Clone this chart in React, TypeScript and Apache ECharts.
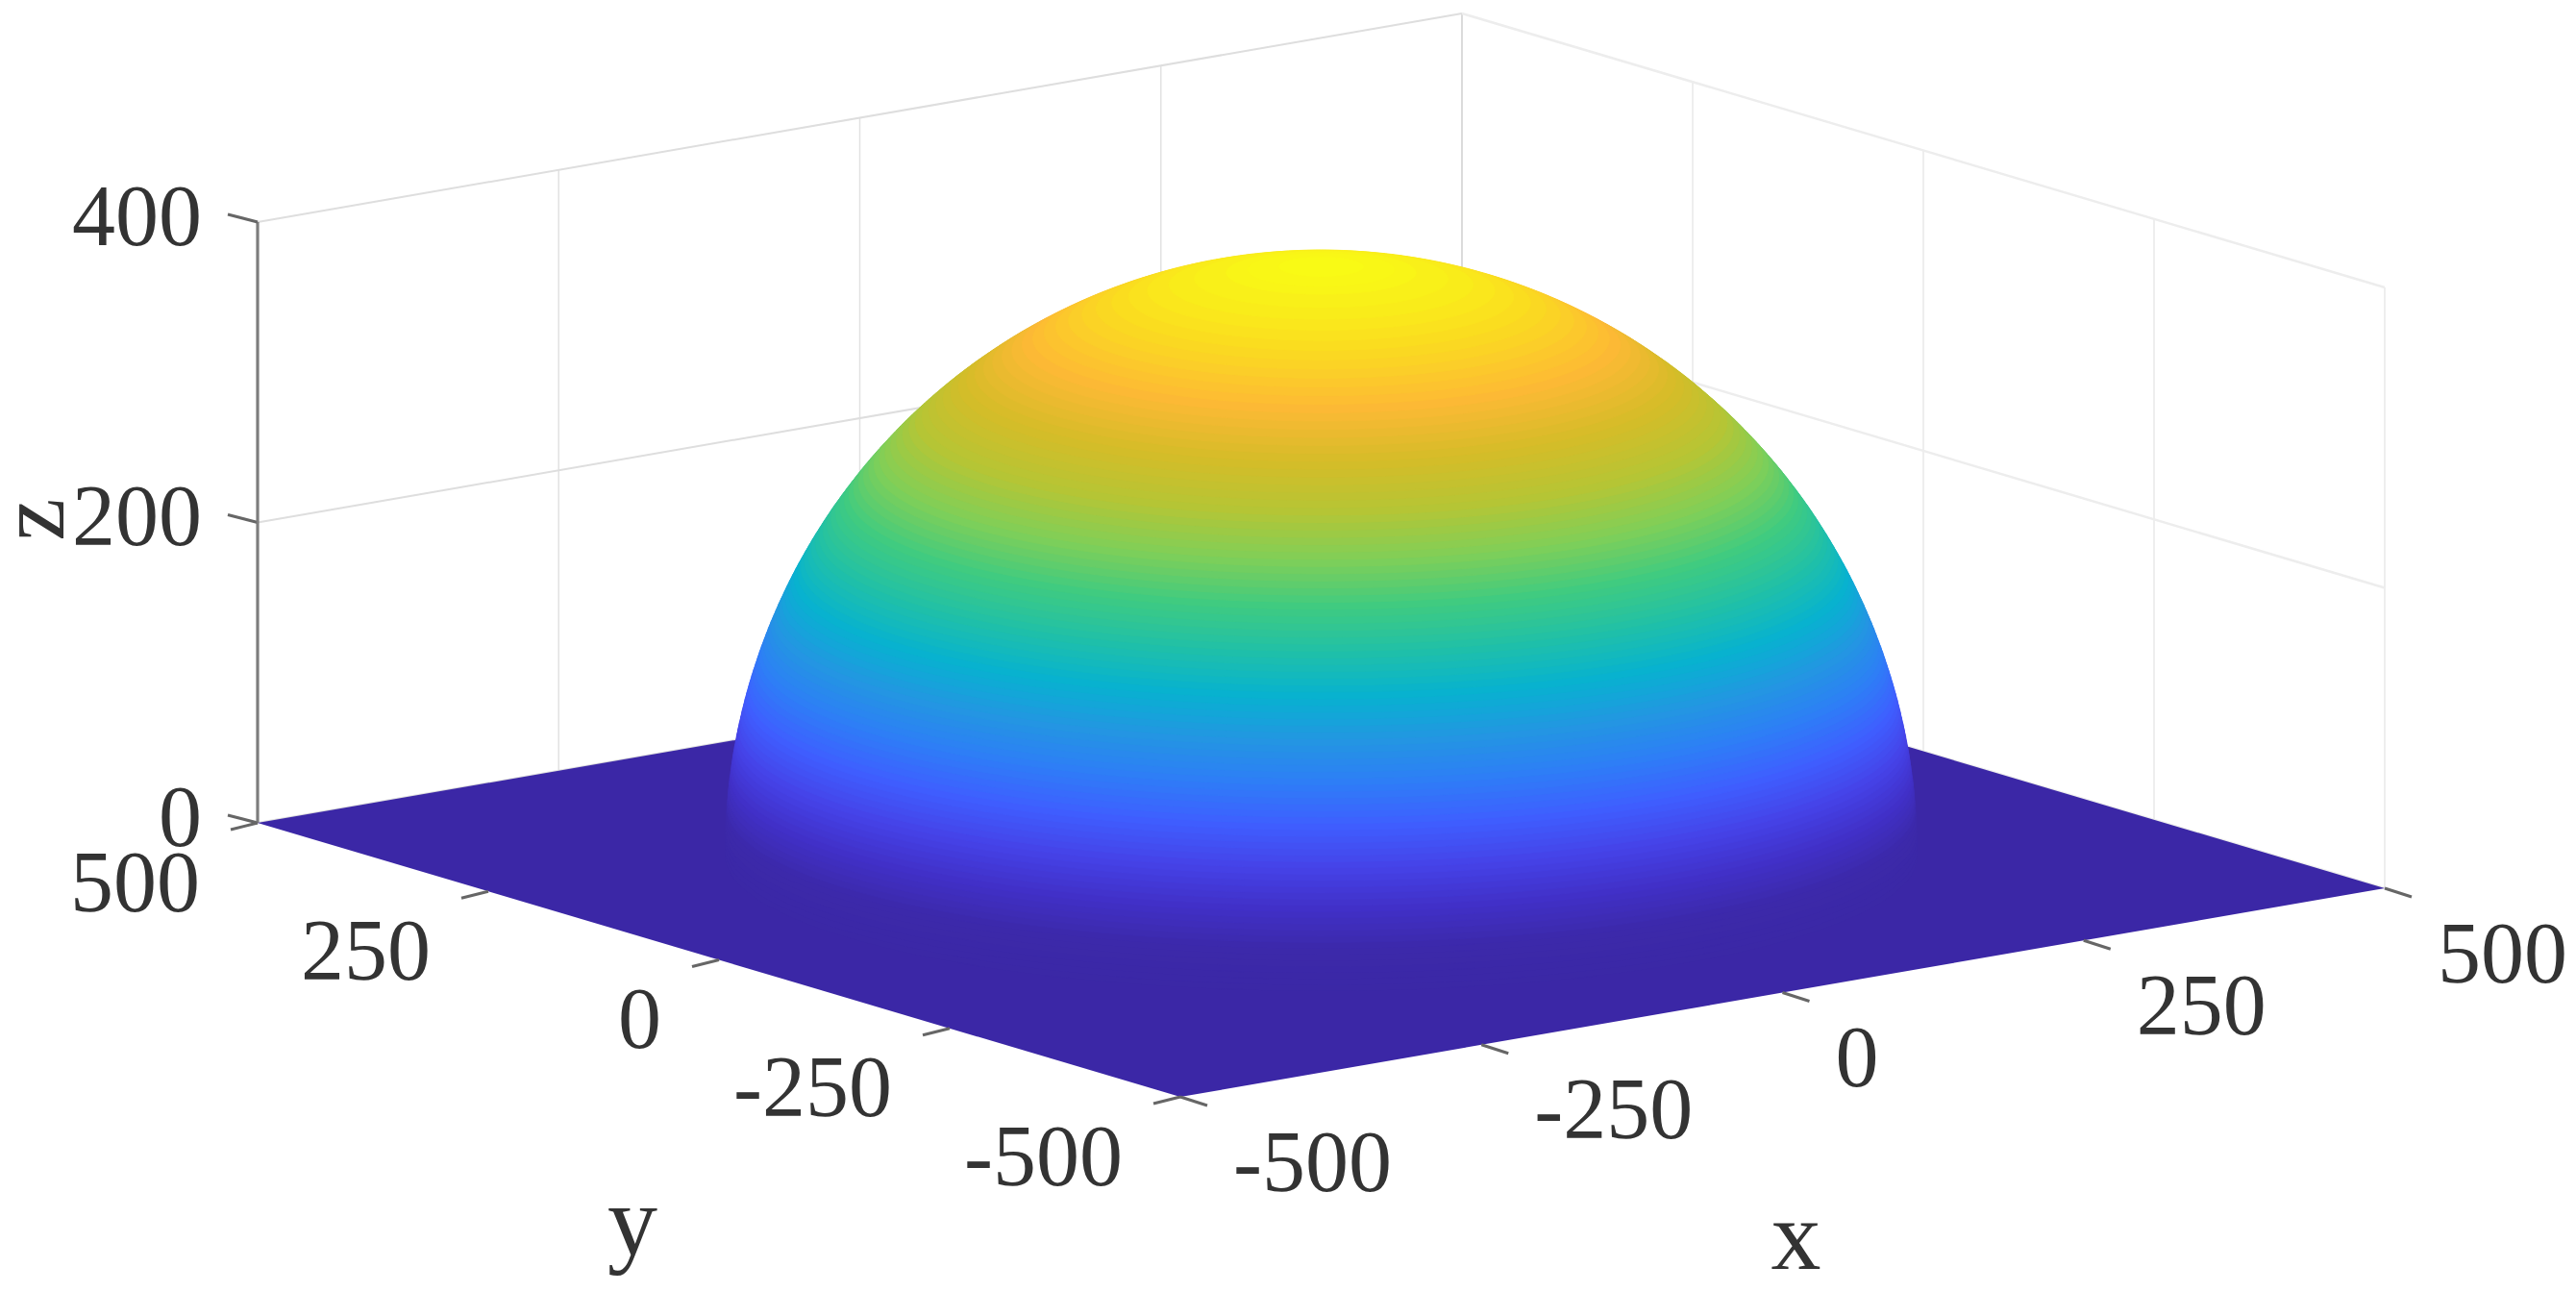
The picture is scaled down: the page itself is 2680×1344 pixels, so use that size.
import React, { useEffect, useRef } from "react";
import * as echarts from "echarts";

// ---- values ----
const xTicks = [-500, -250, 0, 250, 500];
const yTicks = [500, 250, 0, -250, -500];
const zTicks = [0, 200, 400];
const xTickLabels = ["-500", "-250", "0", "250", "500"];
const yTickLabels = ["500", "250", "0", "-250", "-500"];
const zTickLabels = ["0", "200", "400"];
const axisNames = ["x", "y", "z"];

// Height of each horizontal slice of the dome and the radius of that slice
const zLevels = [
  0, 4, 8, 12, 16, 20, 24, 28, 32, 36, 40, 44, 48, 52, 56, 60, 64, 68, 72, 76, 80, 84, 88, 92, 96, 100,
  104, 108, 112, 116, 120, 124, 128, 132, 136, 140, 144, 148, 152, 156, 160, 164, 168, 172, 176, 180, 184, 188, 192, 196, 200,
  204, 208, 212, 216, 220, 224, 228, 232, 236, 240, 244, 248, 252, 256, 260, 264, 268, 272, 276, 280, 284, 288, 292, 296, 300,
  304, 308, 312, 316, 320, 324, 328, 332, 336, 340, 344, 348, 352, 356, 360, 364, 368, 372, 376, 380, 384, 388, 390, 392, 393,
];
const ringRadii = [
  393.0, 393.0, 392.9, 392.8, 392.7, 392.5, 392.3, 392.0, 391.7, 391.3, 391.0, 390.5, 390.1, 389.5, 389.0, 388.4, 387.8, 387.1, 386.3, 385.6, 384.8, 383.9, 383.0, 382.1, 381.1, 380.1,
  379.0, 377.9, 376.7, 375.5, 374.2, 372.9, 371.6, 370.2, 368.7, 367.2, 365.7, 364.1, 362.4, 360.7, 359.0, 357.1, 355.3, 353.4, 351.4, 349.4, 347.3, 345.1, 342.9, 340.6, 338.3,
  335.9, 333.4, 330.9, 328.3, 325.7, 322.9, 320.1, 317.2, 314.2, 311.2, 308.1, 304.9, 301.6, 298.2, 294.7, 291.1, 287.4, 283.7, 279.8, 275.8, 271.6, 267.4, 263.0, 258.5, 253.9,
  249.1, 244.1, 239.0, 233.6, 228.1, 222.4, 216.5, 210.3, 203.8, 197.1, 190.0, 182.6, 174.8, 166.5, 157.6, 148.2, 137.9, 126.8, 114.4, 100.2, 83.6, 62.5, 48.4, 28.0, 0,
];
const surfaceColors = [
  "#3b28a6", "#3c29aa", "#4130c8", "#4543e8", "#3f5eff", "#2e7df7", "#2396e2", "#07b2d0",
  "#20c0a8", "#40cb80", "#80cf58", "#b5c535", "#d6bc28", "#fdb935", "#fadc20", "#f9fb15",
];
const floorColor = "#3b27a6";

// ---- layout of the view ----
const W = 2680;
const H = 1344;
const FRONT = [1228, 1141];
const EX = [1253, -217];
const EY = [-960, -285];
const EZ = 1.5625;
const SEG = 144;
const SERIF = '"Liberation Serif", serif';

const project = (x: number, y: number, z: number) => [
  FRONT[0] + ((x + 500) / 1000) * EX[0] + ((y + 500) / 1000) * EY[0],
  FRONT[1] + ((x + 500) / 1000) * EX[1] + ((y + 500) / 1000) * EY[1] - z * EZ,
];

const line = (api: any, a: number[], b: number[], stroke: string, lineWidth: number) => {
  const p = api.coord(a);
  const q = api.coord(b);
  return { type: "line", shape: { x1: p[0], y1: p[1], x2: q[0], y2: q[1] }, style: { stroke, lineWidth } };
};

const label = (api: any, at: number[], dx: number, dy: number, text: string, align: string, fontSize = 90) => {
  const p = api.coord(at);
  return {
    type: "text",
    style: { x: p[0] + dx, y: p[1] + dy, text, align, verticalAlign: "middle", fontFamily: SERIF, fontSize, fill: "#333333" },
  };
};

const screenAxes = {
  grid: { left: 0, right: 0, top: 0, bottom: 0 },
  xAxis: { type: "value", min: 0, max: W, show: false },
  yAxis: { type: "value", min: 0, max: H, inverse: true, show: false },
};

export default function App() {
  const ref = useRef<HTMLDivElement>(null);
  useEffect(() => {
    document.body.style.margin = "0";
    document.body.style.background = "#ffffff";
    const chart = echarts.init(ref.current!, undefined, { renderer: "svg" });
    const base = { type: "custom", silent: true, clip: false, progressive: 0, animation: false };
    chart.setOption({
      animation: false,
      backgroundColor: "#ffffff",
      ...screenAxes,
      visualMap: {
        show: false,
        type: "continuous",
        seriesIndex: 5,
        dimension: 0,
        min: 0,
        max: 393,
        inRange: { color: surfaceColors },
      },
      series: [
        {
          ...base,
          name: "x grid",
          data: xTicks.map((v) => [v]),
          renderItem: (_: any, api: any) => {
            const v = api.value(0);
            if (v === -500) return { type: "group", children: [] };
            const c = v === 500 ? "#cfcfcf" : "#e2e2e2";
            return line(api, project(v, 500, 0), project(v, 500, 400), c, 1.5);
          },
        },
        {
          ...base,
          name: "y grid",
          data: yTicks.map((v) => [v]),
          renderItem: (_: any, api: any) => {
            const v = api.value(0);
            if (v === 500) return { type: "group", children: [] };
            return line(api, project(500, v, 0), project(500, v, 400), "#eeeeee", 2);
          },
        },
        {
          ...base,
          name: "z grid",
          data: zTicks.map((v) => [v]),
          renderItem: (_: any, api: any) => {
            const v = api.value(0);
            return {
              type: "group",
              children: [
                line(api, project(-500, 500, v), project(500, 500, v), "#dedede", 2),
                line(api, project(500, 500, v), project(500, -500, v), "#ededed", 2.5),
              ],
            };
          },
        },
        {
          ...base,
          name: "z axis",
          data: zTicks.map((v, i) => [v, i]),
          renderItem: (_: any, api: any) => {
            const v = api.value(0);
            const at = project(-500, 500, v);
            return {
              type: "group",
              children: [
                line(api, project(-500, 500, 0), project(-500, 500, 400), "#7d7d7d", 2.5),
                line(api, [at[0] - 31, at[1] - 8], at, "#666666", 3),
                label(api, at, -58, -7, zTickLabels[api.value(1)], "right"),
              ],
            };
          },
        },
        {
          ...base,
          name: "floor",
          data: [[-500, -500, 500, 500]],
          renderItem: (_: any, api: any) => {
            const [a, b, c, d] = [api.value(0), api.value(1), api.value(2), api.value(3)];
            const pts = [project(a, b, 0), project(c, b, 0), project(c, d, 0), project(a, d, 0)].map((p) => api.coord(p));
            return { type: "polygon", shape: { points: pts }, style: { fill: floorColor } };
          },
        },
        {
          ...base,
          name: "dome",
          data: zLevels.map((z, i) => [z, ringRadii[i]]),
          encode: { x: 0, y: 1 },
          renderItem: (_: any, api: any) => {
            const z = api.value(0);
            const r = api.value(1);
            const color = api.visual("color");
            const pts: number[][] = [];
            for (let k = 0; k < SEG; k++) {
              const t = (k / SEG) * Math.PI * 2;
              pts.push(api.coord(project(r * Math.cos(t), r * Math.sin(t), z)));
            }
            return { type: "polygon", shape: { points: pts }, style: { fill: color, stroke: color, lineWidth: 1 } };
          },
        },
        {
          ...base,
          name: "x axis",
          data: xTicks.map((v, i) => [v, i]),
          renderItem: (_: any, api: any) => {
            const at = project(api.value(0), -500, 0);
            return {
              type: "group",
              children: [
                line(api, at, [at[0] + 28, at[1] + 9], "#666666", 3),
                label(api, at, 55, 67, xTickLabels[api.value(1)], "left"),
              ],
            };
          },
        },
        {
          ...base,
          name: "y axis",
          data: yTicks.map((v, i) => [v, i]),
          renderItem: (_: any, api: any) => {
            const at = project(-500, api.value(0), 0);
            return {
              type: "group",
              children: [
                line(api, [at[0] - 28, at[1] + 7], at, "#666666", 3),
                label(api, at, -60, 61, yTickLabels[api.value(1)], "right"),
              ],
            };
          },
        },
        {
          ...base,
          name: "axis names",
          data: axisNames.map((_, i) => [i]),
          renderItem: (_: any, api: any) => {
            const i = api.value(0);
            if (i === 0) {
              const p = project(0, -500, 0);
              return label(api, p, 14, 252, axisNames[0], "center", 104);
            }
            if (i === 1) {
              const p = project(-500, 0, 0);
              return label(api, p, -90, 271, axisNames[1], "center", 104);
            }
            const p = api.coord(project(-500, 500, 200));
            return {
              type: "text",
              x: p[0] - 236,
              y: p[1] - 3,
              rotation: Math.PI / 2,
              style: { x: 0, y: 0, text: axisNames[2], align: "center", verticalAlign: "middle", fontFamily: SERIF, fontSize: 100, fill: "#333333" },
            };
          },
        },
      ],
    });
    return () => chart.dispose();
  }, []);
  return <div ref={ref} style={{ position: "absolute", left: 0, top: 0, width: W, height: H }} />;
}
